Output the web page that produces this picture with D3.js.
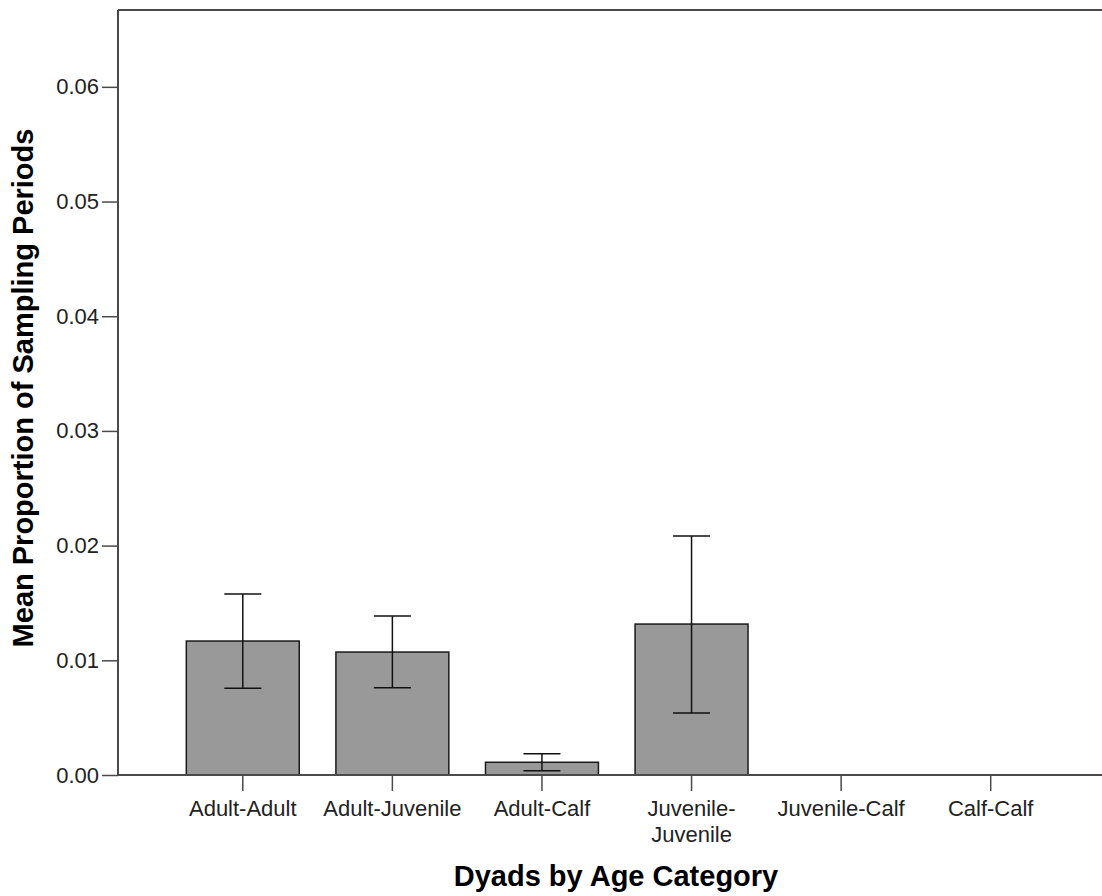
<!DOCTYPE html>
<html>
<head>
<meta charset="utf-8">
<script src="https://cdn.jsdelivr.net/npm/d3@7"></script>
<style>
  body { margin: 0; background: #fff; }
  text { font-family: "Liberation Sans", Arial, sans-serif; fill: #222; }
  .title { font-weight: bold; fill: #000; }
</style>
</head>
<body>
<div id="chart"></div>
<script>
// Data
var categories = ["Adult-Adult", "Adult-Juvenile", "Adult-Calf", "Juvenile-Juvenile", "Juvenile-Calf", "Calf-Calf"];
var tickLabels = [["Adult-Adult"], ["Adult-Juvenile"], ["Adult-Calf"], ["Juvenile-", "Juvenile"], ["Juvenile-Calf"], ["Calf-Calf"]];
var means = [0.01168, 0.01072, 0.00111, 0.01316, 0, 0];
var errLow = [0.00756, 0.00761, 0.00037, 0.0054, 0, 0];
var errHigh = [0.01578, 0.01386, 0.00186, 0.02084, 0, 0];
var yTicks = [0, 0.01, 0.02, 0.03, 0.04, 0.05, 0.06];

var svgWidth = 1102;
var svgHeight = 896;

// plot frame
var frame = { left: 118, right: 1102, top: 10, bottom: 775 };

var svg = d3.select("#chart")
    .append("svg")
    .attr("width", svgWidth)
    .attr("height", svgHeight);

// scales
var xScale = d3.scaleBand()
    .domain(categories)
    .range([168, 1065.5])
    .paddingInner(0.245)
    .paddingOuter(0.1225);

var yScale = d3.scaleLinear()
    .domain([0, 0.0667])
    .range([frame.bottom, frame.top]);

var rows = categories.map(function(c, i) {
    return { cat: c, label: tickLabels[i], mean: means[i], lo: errLow[i], hi: errHigh[i] };
});

// bars
svg.append("g").selectAll("rect")
    .data(rows)
    .enter()
    .append("rect")
    .attr("x", d => xScale(d.cat))
    .attr("y", d => yScale(d.mean))
    .attr("width", xScale.bandwidth())
    .attr("height", d => yScale(0) - yScale(d.mean))
    .attr("fill", "#999999")
    .attr("stroke", "#1a1a1a")
    .attr("stroke-width", 1.5);

// error bars
var capHalf = 18.5;
var errGroup = svg.append("g")
    .attr("stroke", "#111")
    .attr("stroke-width", 1.5);
rows.filter(d => d.hi > d.lo).forEach(function(d) {
    var cx = xScale(d.cat) + xScale.bandwidth() / 2;
    errGroup.append("line")
        .attr("x1", cx).attr("x2", cx)
        .attr("y1", yScale(d.lo)).attr("y2", yScale(d.hi));
    [d.lo, d.hi].forEach(function(v) {
        errGroup.append("line")
            .attr("x1", cx - capHalf).attr("x2", cx + capHalf)
            .attr("y1", yScale(v)).attr("y2", yScale(v));
    });
});

// frame lines
var axisColor = "#4a4a4a";
svg.append("line")
    .attr("x1", frame.left).attr("x2", frame.right)
    .attr("y1", frame.top).attr("y2", frame.top)
    .attr("stroke", axisColor).attr("stroke-width", 2);
svg.append("line")
    .attr("x1", frame.left).attr("x2", frame.left)
    .attr("y1", frame.top).attr("y2", frame.bottom)
    .attr("stroke", axisColor).attr("stroke-width", 2);
svg.append("line")
    .attr("x1", frame.left).attr("x2", frame.right)
    .attr("y1", frame.bottom).attr("y2", frame.bottom)
    .attr("stroke", axisColor).attr("stroke-width", 2);

// y axis
var leftAxis = d3.axisLeft(yScale)
    .tickValues(yTicks)
    .tickFormat(d3.format(".2f"))
    .tickSize(16)
    .tickPadding(3);
var yAxis = svg.append("g")
    .attr("transform", `translate(${frame.left}, 0)`)
    .call(leftAxis);
yAxis.select(".domain").remove();
yAxis.selectAll(".tick line").attr("stroke", axisColor).attr("stroke-width", 1.5);
yAxis.selectAll(".tick text")
    .attr("fill", "#222")
    .style("font-size", "22px")
    .style("font-family", "'Liberation Sans', Arial, sans-serif");

// x axis
var bottomAxis = d3.axisBottom(xScale)
    .tickSize(16)
    .tickFormat("");
var xAxis = svg.append("g")
    .attr("transform", `translate(0, ${frame.bottom})`)
    .call(bottomAxis);
xAxis.select(".domain").remove();
xAxis.selectAll(".tick line").attr("stroke", axisColor).attr("stroke-width", 1.5);

// x tick labels, multi-line where needed
svg.append("g").selectAll("text")
    .data(rows)
    .enter()
    .append("text")
    .attr("x", d => xScale(d.cat) + xScale.bandwidth() / 2)
    .attr("y", 816)
    .attr("text-anchor", "middle")
    .style("font-size", "22px")
    .each(function(d) {
        var t = d3.select(this);
        d.label.forEach(function(line, j) {
            t.append("tspan")
                .attr("x", xScale(d.cat) + xScale.bandwidth() / 2)
                .attr("dy", j === 0 ? 0 : 25.5)
                .text(line);
        });
    });

// axis titles
svg.append("text")
    .attr("class", "title")
    .attr("x", 616)
    .attr("y", 886)
    .attr("text-anchor", "middle")
    .style("font-size", "29px")
    .text("Dyads by Age Category");

svg.append("text")
    .attr("class", "title")
    .attr("transform", "rotate(-90)")
    .attr("x", -388)
    .attr("y", 33)
    .attr("text-anchor", "middle")
    .style("font-size", "29px")
    .text("Mean Proportion of Sampling Periods");
</script>
</body>
</html>
